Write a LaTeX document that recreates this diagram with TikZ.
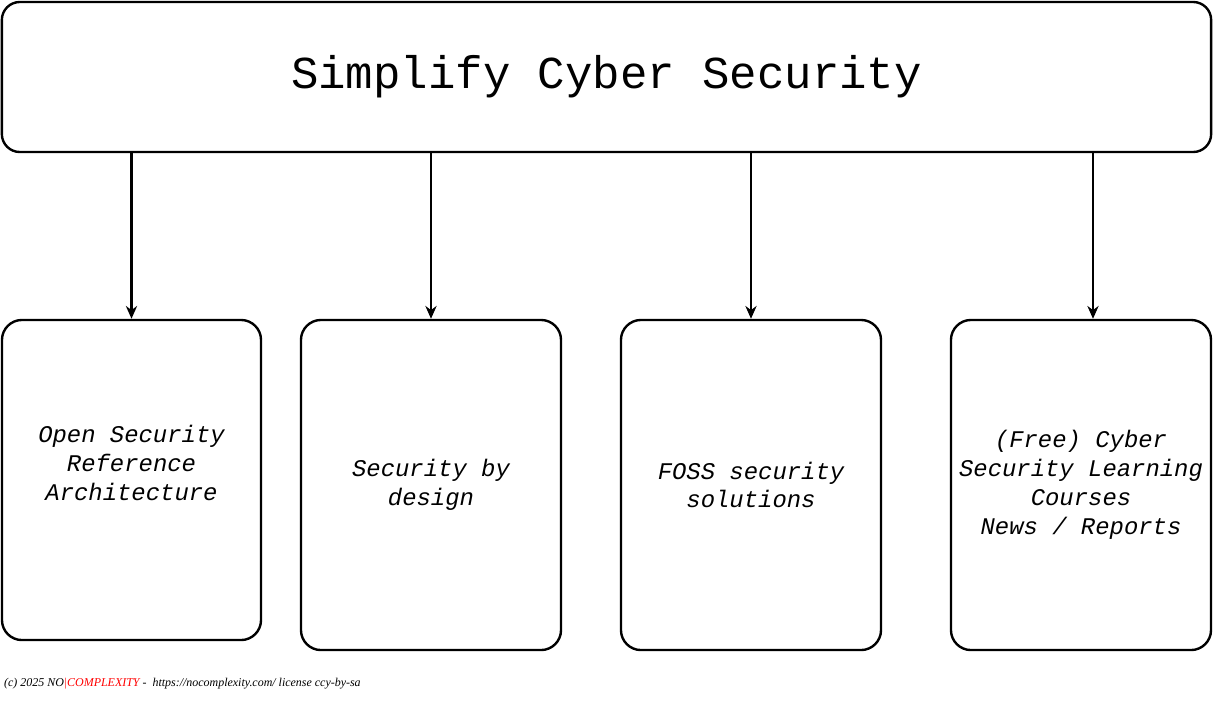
\documentclass[tikz,border=0pt]{standalone}
\usepackage{fontspec}
\setmonofont{Liberation Mono}
\newfontfamily\footfont{Liberation Serif}
\usetikzlibrary{arrows.meta,positioning}

\begin{document}
\begin{tikzpicture}[x=0.025cm,y=-0.025cm,
    every node/.append style={line width=1.7pt},
    topic/.style={draw, rounded corners=0.5cm, align=center, inner sep=0pt,
        minimum width=6.5cm, minimum height=8.25cm,
        font=\ttfamily\itshape\fontsize{17}{20.5}\selectfont},
    link/.style={line width=1.7pt, -{Stealth[length=3.2mm,width=2.8mm]}}]
  \useasboundingbox (0,0) rectangle (1213,700);
  \node (title) [draw, rounded corners=0.45cm, inner sep=0pt,
        minimum width=30.225cm, minimum height=3.75cm,
        font=\ttfamily\fontsize{32.5}{36}\selectfont] at (606.5,77)
        {Simplify Cyber Security};
  \node (osra) [topic, minimum width=6.475cm, minimum height=8cm] at (131.5,480) {};
  \node (osratext) [align=center, font=\ttfamily\itshape\fontsize{17}{20.5}\selectfont]
        at ([yshift=0.43cm]osra.center) {Open Security\\Reference\\Architecture};
  \node (sbd) [topic] at (431,485) {Security by\\design};
  \node (foss) [topic] at (751,485) {FOSS security\\solutions};
  \node (learn) [topic] at (1081,485)
        {(Free) Cyber\\Security Learning\\Courses\\News / Reports};
  \node (footer) [anchor=west, inner sep=0pt,
        font=\footfont\itshape\fontsize{8.5}{9.5}\selectfont] at (3,684)
        {(c) 2025 NO\textcolor{red}{|COMPLEXITY} -\ \ https://nocomplexity.com/ license ccy-by-sa};
  \draw[link] (osra.north |- title.south) -- (osra.north);
  \draw[link] (sbd.north |- title.south) -- (sbd.north);
  \draw[link] (foss.north |- title.south) -- (foss.north);
  \draw[link] ([xshift=0.3cm]learn.north |- title.south) -- ([xshift=0.3cm]learn.north);
\end{tikzpicture}
\end{document}
